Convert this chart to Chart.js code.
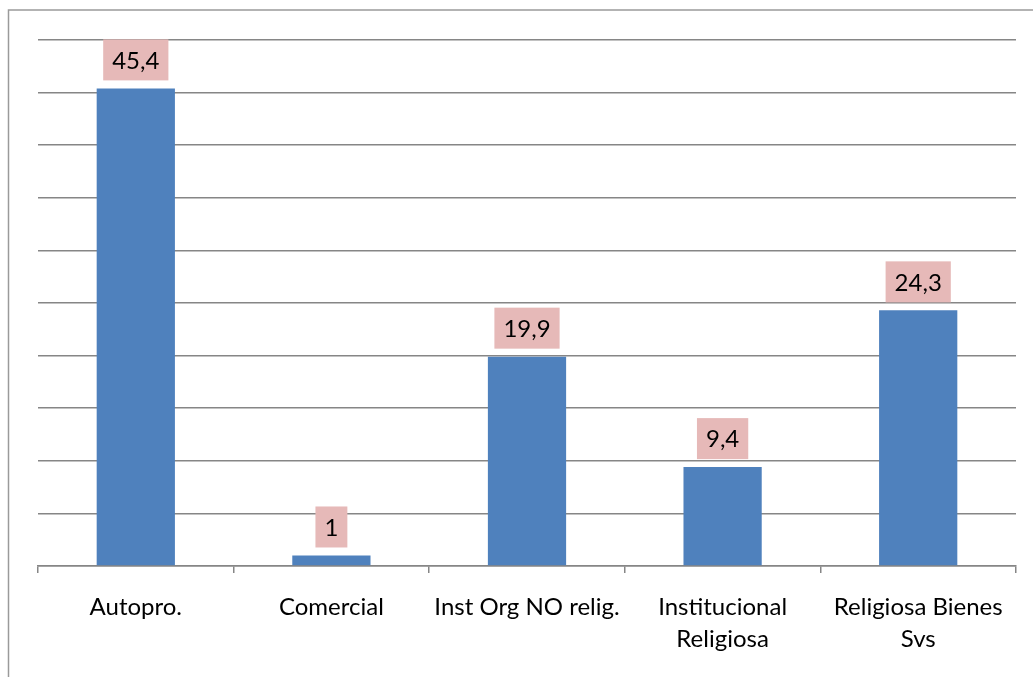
<!DOCTYPE html>
<html>
<head>
<meta charset="utf-8">
<script src="https://cdn.jsdelivr.net/npm/chart.js@4/dist/chart.umd.min.js"></script>
<style>
  html, body { margin: 0; padding: 0; background: #ffffff; }
  #wrap { width: 1033px; height: 677px; position: relative; }
</style>
</head>
<body>
<div id="wrap"><canvas id="chart" width="1033" height="677"></canvas></div>
<script>
// Categories and values (percent)
const categories = [
  'Autopro.',
  'Comercial',
  'Inst Org NO relig.',
  ['Institucional', 'Religiosa'],
  ['Religiosa Bienes', 'Svs']
];
const values = [45.4, 1, 19.9, 9.4, 24.3];
const valueLabels = ['45,4', '1', '19,9', '9,4', '24,3'];

const FONT = 'Lato, "Open Sans", sans-serif';

// Outer frame (left and top edges of the chart border)
const framePlugin = {
  id: 'frame',
  beforeDraw(chart) {
    const ctx = chart.ctx;
    ctx.save();
    ctx.strokeStyle = '#9a9a9a';
    ctx.lineWidth = 1.5;
    ctx.beginPath();
    ctx.moveTo(8.5, chart.height);
    ctx.lineTo(8.5, 10);
    ctx.lineTo(chart.width, 10);
    ctx.stroke();
    ctx.restore();
  }
};

// Value labels drawn in pink boxes above each bar
const boxLabelPlugin = {
  id: 'boxLabels',
  afterDatasetsDraw(chart) {
    const ctx = chart.ctx;
    const meta = chart.getDatasetMeta(0);
    ctx.save();
    ctx.font = '24px ' + FONT;
    ctx.textAlign = 'center';
    ctx.textBaseline = 'middle';
    meta.data.forEach((bar, i) => {
      const text = valueLabels[i];
      const w = ctx.measureText(text).width + 18;
      const h = 41;
      const bottom = bar.y - 8;
      ctx.fillStyle = '#e6b9b8';
      ctx.fillRect(bar.x - w / 2, bottom - h, w, h);
      ctx.fillStyle = '#000000';
      ctx.fillText(text, bar.x, bottom - h / 2 + 1);
    });
    ctx.restore();
  }
};

new Chart(document.getElementById('chart'), {
  type: 'bar',
  data: {
    labels: categories,
    datasets: [{
      data: values,
      backgroundColor: '#4f81bd',
      borderWidth: 0,
      categoryPercentage: 1,
      barPercentage: 0.4
    }]
  },
  options: {
    responsive: false,
    animation: false,
    events: [],
    layout: { padding: { left: 38, right: 17, top: 40, bottom: 0 } },
    plugins: {
      legend: { display: false },
      tooltip: { enabled: false }
    },
    scales: {
      x: {
        grid: {
          display: true,
          drawOnChartArea: false,
          drawTicks: true,
          tickLength: 7,
          color: '#868686',
          lineWidth: 1.5,
          offset: true
        },
        border: { display: true, color: '#868686', width: 1.5 },
        ticks: {
          color: '#000000',
          font: { family: FONT, size: 24, lineHeight: 1.33 },
          padding: 18,
          maxRotation: 0,
          autoSkip: false
        },
        afterFit(scale) { scale.height = 111; }
      },
      y: {
        min: 0,
        max: 50,
        ticks: { stepSize: 5, display: false },
        grid: { color: '#868686', lineWidth: 1.5, drawTicks: false },
        border: { display: false },
        afterFit(scale) { scale.width = 0; }
      }
    }
  },
  plugins: [framePlugin, boxLabelPlugin]
});
</script>
</body>
</html>
